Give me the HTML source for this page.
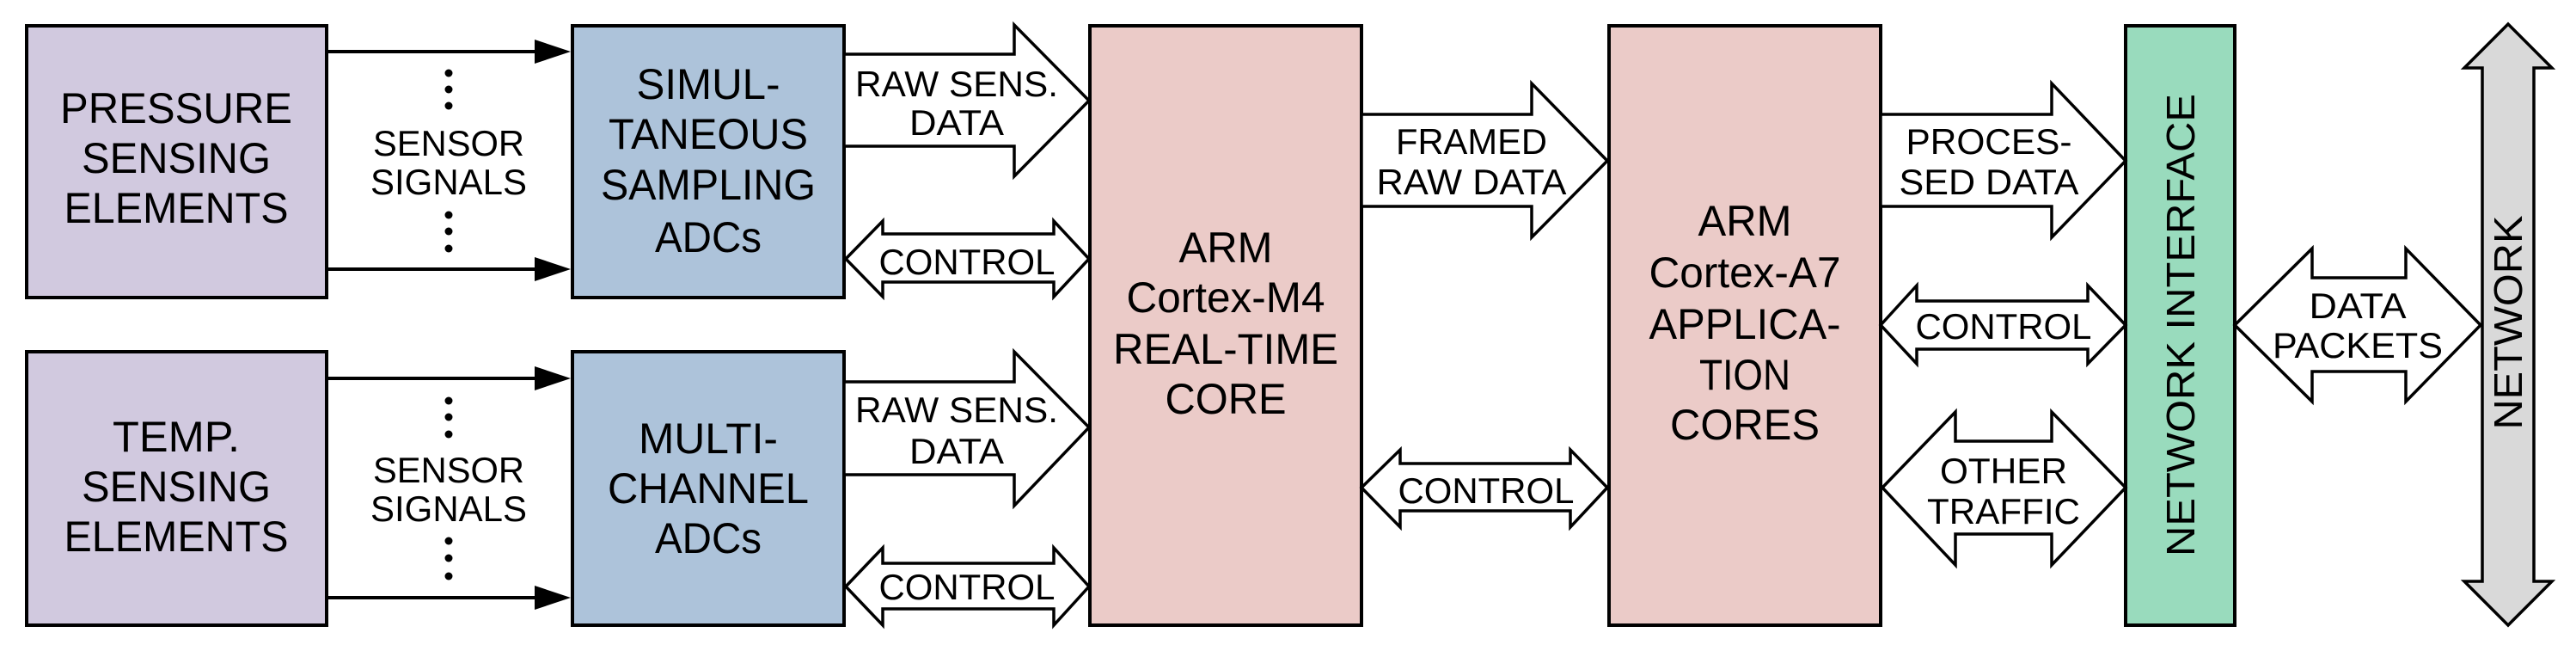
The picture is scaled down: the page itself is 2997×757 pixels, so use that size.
<!DOCTYPE html>
<html><head><meta charset="utf-8"><style>
html,body{margin:0;padding:0;background:#fff;}
svg{display:block;}
text{font-family:"Liberation Sans",Arial,sans-serif;fill:#000;}
</style></head><body>
<svg width="2997" height="757" viewBox="0 0 2997 757" xmlns="http://www.w3.org/2000/svg">
<g stroke="#000" stroke-width="4" stroke-linejoin="miter">
<rect x="31" y="30" width="349" height="316" fill="#d1c9df"/>
<rect x="31" y="409" width="349" height="318" fill="#d1c9df"/>
<rect x="666" y="30" width="316" height="316" fill="#adc3da"/>
<rect x="666" y="409" width="316" height="318" fill="#adc3da"/>
<rect x="1268" y="30" width="316" height="697" fill="#ebcbc8"/>
<rect x="1872" y="30" width="316" height="697" fill="#ebcbc8"/>
<rect x="2473" y="30" width="127" height="697" fill="#99dbbd"/>
<line x1="380" y1="60" x2="625" y2="60"/>
<line x1="380" y1="313" x2="625" y2="313"/>
<line x1="380" y1="440" x2="625" y2="440"/>
<line x1="380" y1="695" x2="625" y2="695"/>
</g>
<g fill="#000">
<polygon points="622,46 664,60 622,74"/>
<polygon points="622,299 664,313 622,327"/>
<polygon points="622,426 664,440 622,454"/>
<polygon points="622,681 664,695 622,709"/>
<circle cx="522" cy="85" r="4.5"/><circle cx="522" cy="104" r="4.5"/><circle cx="522" cy="123" r="4.5"/>
<circle cx="522" cy="250" r="4.5"/><circle cx="522" cy="269" r="4.5"/><circle cx="522" cy="289" r="4.5"/>
<circle cx="522" cy="466" r="4.5"/><circle cx="522" cy="485" r="4.5"/><circle cx="522" cy="505" r="4.5"/>
<circle cx="522" cy="629" r="4.5"/><circle cx="522" cy="649" r="4.5"/><circle cx="522" cy="670" r="4.5"/>
</g>
<g stroke="#000" stroke-width="3.5" fill="#fff" stroke-linejoin="miter">
<polygon points="982,63 1180,63 1180,29 1267,117 1180,205 1180,170 982,170"/>
<polygon points="982,444 1180,444 1180,409 1267,497 1180,588 1180,552 982,552"/>
<polygon points="984,301 1027,257 1027,272 1226,272 1226,257 1267,301 1226,345 1226,328 1027,328 1027,345"/>
<polygon points="984,682 1027,637 1027,655 1226,655 1226,637 1267,682 1226,727 1226,708 1027,708 1027,727"/>
<polygon points="1584,133 1782,133 1782,97 1870,187 1782,276 1782,240 1584,240"/>
<polygon points="1584,567 1629,523 1629,539 1827,539 1827,523 1870,567 1827,613 1827,594 1629,594 1629,613"/>
<polygon points="2188,133 2387,133 2387,97 2473,187 2387,276 2387,240 2188,240"/>
<polygon points="2188,378 2230,332 2230,350 2429,350 2429,332 2473,378 2429,423 2429,406 2230,406 2230,423"/>
<polygon points="2190,567 2275,479 2275,513 2387,513 2387,479 2473,567 2387,657 2387,621 2275,621 2275,657"/>
<polygon points="2600,378 2690,289 2690,323 2799,323 2799,289 2886,378 2799,467 2799,432 2690,432 2690,467"/>
<polygon fill="#d9d9d9" points="2918,28 2969,79 2948,79 2948,676 2969,676 2918,727 2867,676 2888,676 2888,79 2867,79"/>
</g>
<g text-anchor="middle" font-size="50">
<text x="205" y="143" textLength="270" lengthAdjust="spacingAndGlyphs">PRESSURE</text>
<text x="205" y="201" textLength="220" lengthAdjust="spacingAndGlyphs">SENSING</text>
<text x="205" y="259" textLength="261" lengthAdjust="spacingAndGlyphs">ELEMENTS</text>
<text x="205" y="525" textLength="148" lengthAdjust="spacingAndGlyphs">TEMP.</text>
<text x="205" y="583" textLength="220" lengthAdjust="spacingAndGlyphs">SENSING</text>
<text x="205" y="641" textLength="261" lengthAdjust="spacingAndGlyphs">ELEMENTS</text>
<text x="824" y="115" textLength="167" lengthAdjust="spacingAndGlyphs">SIMUL-</text>
<text x="824" y="173" textLength="232" lengthAdjust="spacingAndGlyphs">TANEOUS</text>
<text x="824" y="232" textLength="250" lengthAdjust="spacingAndGlyphs">SAMPLING</text>
<text x="824" y="293" textLength="124" lengthAdjust="spacingAndGlyphs">ADCs</text>
<text x="824" y="527" textLength="162" lengthAdjust="spacingAndGlyphs">MULTI-</text>
<text x="824" y="585" textLength="234" lengthAdjust="spacingAndGlyphs">CHANNEL</text>
<text x="824" y="643" textLength="124" lengthAdjust="spacingAndGlyphs">ADCs</text>
<text x="1426" y="305" textLength="109" lengthAdjust="spacingAndGlyphs">ARM</text>
<text x="1426" y="363" textLength="231" lengthAdjust="spacingAndGlyphs">Cortex-M4</text>
<text x="1426" y="423" textLength="262" lengthAdjust="spacingAndGlyphs">REAL-TIME</text>
<text x="1426" y="481" textLength="141" lengthAdjust="spacingAndGlyphs">CORE</text>
<text x="2030" y="274" textLength="109" lengthAdjust="spacingAndGlyphs">ARM</text>
<text x="2030" y="334" textLength="223" lengthAdjust="spacingAndGlyphs">Cortex-A7</text>
<text x="2030" y="394" textLength="223" lengthAdjust="spacingAndGlyphs">APPLICA-</text>
<text x="2030" y="453" textLength="106" lengthAdjust="spacingAndGlyphs">TION</text>
<text x="2030" y="511" textLength="174" lengthAdjust="spacingAndGlyphs">CORES</text>
</g>
<g text-anchor="middle" font-size="42">
<text x="522" y="181" textLength="176" lengthAdjust="spacingAndGlyphs">SENSOR</text>
<text x="522" y="226" textLength="182" lengthAdjust="spacingAndGlyphs">SIGNALS</text>
<text x="522" y="561" textLength="176" lengthAdjust="spacingAndGlyphs">SENSOR</text>
<text x="522" y="606" textLength="182" lengthAdjust="spacingAndGlyphs">SIGNALS</text>
<text x="1113" y="112" textLength="236" lengthAdjust="spacingAndGlyphs">RAW SENS.</text>
<text x="1113" y="157" textLength="110" lengthAdjust="spacingAndGlyphs">DATA</text>
<text x="1113" y="491" textLength="236" lengthAdjust="spacingAndGlyphs">RAW SENS.</text>
<text x="1113" y="539" textLength="110" lengthAdjust="spacingAndGlyphs">DATA</text>
<text x="1125" y="319" textLength="205" lengthAdjust="spacingAndGlyphs">CONTROL</text>
<text x="1125" y="697" textLength="205" lengthAdjust="spacingAndGlyphs">CONTROL</text>
<text x="1712" y="179" textLength="176" lengthAdjust="spacingAndGlyphs">FRAMED</text>
<text x="1712" y="226" textLength="221" lengthAdjust="spacingAndGlyphs">RAW DATA</text>
<text x="1729" y="585" textLength="205" lengthAdjust="spacingAndGlyphs">CONTROL</text>
<text x="2314" y="179" textLength="193" lengthAdjust="spacingAndGlyphs">PROCES-</text>
<text x="2314" y="226" textLength="209" lengthAdjust="spacingAndGlyphs">SED DATA</text>
<text x="2331" y="394" textLength="205" lengthAdjust="spacingAndGlyphs">CONTROL</text>
<text x="2331" y="562" textLength="148" lengthAdjust="spacingAndGlyphs">OTHER</text>
<text x="2331" y="609" textLength="178" lengthAdjust="spacingAndGlyphs">TRAFFIC</text>
<text x="2743" y="370" textLength="113" lengthAdjust="spacingAndGlyphs">DATA</text>
<text x="2743" y="416" textLength="198" lengthAdjust="spacingAndGlyphs">PACKETS</text>
</g>
<g text-anchor="middle" font-size="46">
<text transform="translate(2553,378) rotate(-90)" x="0" y="0" textLength="538" lengthAdjust="spacingAndGlyphs">NETWORK INTERFACE</text>
<text transform="translate(2934,375) rotate(-90)" x="0" y="0" textLength="249" lengthAdjust="spacingAndGlyphs">NETWORK</text>
</g>
</svg>
</body></html>
